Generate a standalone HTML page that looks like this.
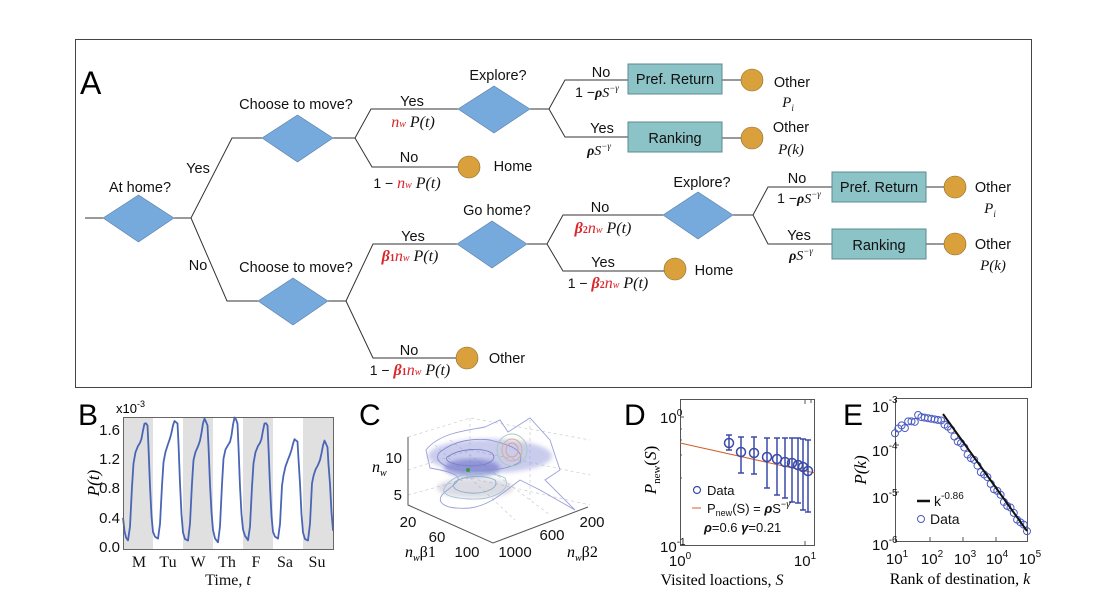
<!DOCTYPE html>
<html><head><meta charset="utf-8"><style>
html,body{margin:0;padding:0;background:#fff;}
svg{display:block;}
.s{font-family:"Liberation Sans",sans-serif;}
.m{font-family:"Liberation Serif",serif;font-style:italic;}
.r{fill:#d9262b;}
</style></head><body>
<svg id="sv" width="1102" height="614" viewBox="0 0 1102 614" xmlns="http://www.w3.org/2000/svg">
<rect width="1102" height="614" fill="#fff"/>
<!-- Panel A -->
<rect x="75.5" y="39.5" width="956" height="348" fill="none" stroke="#444" stroke-width="1"/>
<text x="80" y="94" class="s" font-size="32">A</text>
<g fill="none" stroke="#333" stroke-width="1">
<path d="M85 218H103M174 218H191L232 138H262M191 218L227 301H258"/>
<path d="M333 138H355L371 109H458M355 138L372 167H458"/>
<path d="M328 301H346L373 244H457M346 301L373 358H456"/>
<path d="M530 109H549L565 80H628M549 109L565 137H628M722 80H741M722 138H741"/>
<path d="M527 244H547L563 215H663M547 244L563 271H664"/>
<path d="M733 215H753L768 187H832M753 215L768 244H832M926 187H944M926 244H944"/>
</g>
<g fill="#76aadc" stroke="#5a7fa8" stroke-width="0.6">
<polygon points="103,218 138.5,195 174,218 138.5,242"/>
<polygon points="262,138 297.5,115 333,138 297.5,162"/>
<polygon points="258,301 293,278 328,301 293,325"/>
<polygon points="458,109 494,86 530,109 494,133"/>
<polygon points="457,244 492,221 527,244 492,268"/>
<polygon points="663,215 698,192 733,215 698,239"/>
</g>
<g fill="#d9a03c" stroke="#8a6a2a" stroke-width="0.6">
<circle cx="469" cy="167" r="11"/><circle cx="467" cy="358" r="11"/>
<circle cx="675" cy="269" r="11"/>
<circle cx="752" cy="80" r="11"/><circle cx="752" cy="138" r="11"/>
<circle cx="955" cy="187" r="11"/><circle cx="955" cy="244" r="11"/>
</g>
<g fill="#8cc3c7" stroke="#5d8b90" stroke-width="1">
<rect x="628" y="64" width="94" height="30"/><rect x="628" y="122" width="94" height="30"/>
<rect x="832" y="172" width="94" height="30"/><rect x="832" y="229" width="94" height="30"/>
</g>
<g class="s" font-size="14.5" fill="#111" text-anchor="middle">
<text x="675" y="84">Pref. Return</text><text x="675" y="143">Ranking</text>
<text x="879" y="192">Pref. Return</text><text x="879" y="250">Ranking</text>
<text x="140" y="192">At home?</text>
<text x="296" y="109">Choose to move?</text><text x="296" y="272">Choose to move?</text>
<text x="498" y="80">Explore?</text><text x="497" y="215">Go home?</text><text x="702" y="187">Explore?</text>
<text x="198" y="173">Yes</text><text x="198" y="270">No</text>
<text x="412" y="106">Yes</text><text x="409" y="162">No</text>
<text x="413" y="241">Yes</text><text x="409" y="355">No</text>
<text x="601" y="77">No</text><text x="602" y="133">Yes</text>
<text x="600" y="212">No</text><text x="603" y="267">Yes</text>
<text x="797" y="183">No</text><text x="799" y="240">Yes</text>
<text x="792" y="87">Other</text><text x="791" y="132">Other</text>
<text x="993" y="192">Other</text><text x="993" y="249">Other</text>
<text x="513" y="171">Home</text><text x="714" y="275">Home</text><text x="507" y="363">Other</text>
</g>
<g font-size="16" text-anchor="middle" fill="#111">
<text x="413" y="127"><tspan class="m r">n</tspan><tspan class="m r" font-size="10">w</tspan><tspan class="m"> P</tspan><tspan class="m">(t)</tspan></text>
<text x="407" y="188"><tspan class="s" font-size="14">1 − </tspan><tspan class="m r">n</tspan><tspan class="m r" font-size="10">w</tspan><tspan class="m"> P(t)</tspan></text>
<text x="410" y="261"><tspan class="r" font-family="Liberation Serif" font-weight="bold" font-style="italic">β</tspan><tspan class="r" font-family="Liberation Serif" font-weight="bold" font-size="10">1</tspan><tspan class="m r">n</tspan><tspan class="m r" font-size="10">w</tspan><tspan class="m"> P(t)</tspan></text>
<text x="410" y="375"><tspan class="s" font-size="14">1 − </tspan><tspan class="r" font-family="Liberation Serif" font-weight="bold" font-style="italic">β</tspan><tspan class="r" font-family="Liberation Serif" font-weight="bold" font-size="10">1</tspan><tspan class="m r">n</tspan><tspan class="m r" font-size="10">w</tspan><tspan class="m"> P(t)</tspan></text>
<text x="603" y="233"><tspan class="r" font-family="Liberation Serif" font-weight="bold" font-style="italic">β</tspan><tspan class="r" font-family="Liberation Serif" font-weight="bold" font-size="10">2</tspan><tspan class="m r">n</tspan><tspan class="m r" font-size="10">w</tspan><tspan class="m"> P(t)</tspan></text>
<text x="608" y="288"><tspan class="s" font-size="14">1 − </tspan><tspan class="r" font-family="Liberation Serif" font-weight="bold" font-style="italic">β</tspan><tspan class="r" font-family="Liberation Serif" font-weight="bold" font-size="10">2</tspan><tspan class="m r">n</tspan><tspan class="m r" font-size="10">w</tspan><tspan class="m"> P(t)</tspan></text>
<g font-size="14">
<text x="597" y="97"><tspan class="s">1 −</tspan><tspan font-family="Liberation Serif" font-weight="bold" font-style="italic">ρ</tspan><tspan class="m">S</tspan><tspan class="m" font-size="9" dy="-6">−γ</tspan></text>
<text x="599" y="155"><tspan font-family="Liberation Serif" font-weight="bold" font-style="italic">ρ</tspan><tspan class="m">S</tspan><tspan class="m" font-size="9" dy="-6">−γ</tspan></text>
<text x="799" y="203"><tspan class="s">1 −</tspan><tspan font-family="Liberation Serif" font-weight="bold" font-style="italic">ρ</tspan><tspan class="m">S</tspan><tspan class="m" font-size="9" dy="-6">−γ</tspan></text>
<text x="801" y="260"><tspan font-family="Liberation Serif" font-weight="bold" font-style="italic">ρ</tspan><tspan class="m">S</tspan><tspan class="m" font-size="9" dy="-6">−γ</tspan></text>
</g>
<g font-size="15" class="m">
<text x="788" y="107">P<tspan font-size="9" dy="4">i</tspan></text>
<text x="791" y="154">P(k)</text>
<text x="990" y="213">P<tspan font-size="9" dy="4">i</tspan></text>
<text x="993" y="270">P(k)</text>
</g>
</g>

<!-- Panel B -->
<text x="78" y="425" class="s" font-size="30">B</text>
<g fill="#e0e0e0">
<rect x="123" y="417" width="30" height="133"/><rect x="183" y="417" width="30" height="133"/>
<rect x="243" y="417" width="30" height="133"/><rect x="303" y="417" width="30" height="133"/>
</g>
<path id="bcurve" fill="none" stroke="#4a65b5" stroke-width="1.8" stroke-linejoin="round" d=""/>
<rect x="123.5" y="417.5" width="210" height="132" fill="none" stroke="#666" stroke-width="1"/>
<g class="s" font-size="15" text-anchor="end" fill="#111">
<text x="120" y="435">1.6</text><text x="120" y="464">1.2</text><text x="120" y="493">0.8</text><text x="120" y="523">0.4</text><text x="120" y="552">0.0</text>
</g>
<text x="116" y="413" class="s" font-size="13">x10<tspan font-size="9" dy="-6">-3</tspan></text>
<text transform="translate(99,483) rotate(-90)" class="m" font-size="17" text-anchor="middle">P(t)</text>
<g font-family="Liberation Serif" font-size="16" text-anchor="middle" fill="#111">
<text x="139" y="567">M</text><text x="168" y="567">Tu</text><text x="198" y="567">W</text><text x="227" y="567">Th</text><text x="256" y="567">F</text><text x="285" y="567">Sa</text><text x="317" y="567">Su</text>
<text x="228" y="585">Time, <tspan font-style="italic">t</tspan></text>
</g>

<!-- Panel C -->
<text x="359" y="425" class="s" font-size="30">C</text>
<g stroke="#ccc" stroke-width="0.7" stroke-dasharray="3,3" fill="none">
<path d="M408 437L470 418L590 440M408 470L470 450L590 475M408 495L470 478L590 505M470 418V478M530 420V500M435 445L515 520M450 440L550 515"/>
</g>
<defs><filter id="bl"><feGaussianBlur stdDeviation="2"/></filter></defs>
<ellipse cx="490" cy="456" rx="62" ry="17" fill="#8a8fd8" opacity="0.45" filter="url(#bl)"/>
<ellipse cx="472" cy="468" rx="28" ry="9" fill="#6a6fc8" opacity="0.6" filter="url(#bl)"/>
<ellipse cx="475" cy="488" rx="38" ry="10" fill="#9a9ab0" opacity="0.35" filter="url(#bl)"/>
<g fill="none" stroke-width="0.9">
<path d="M426 450C440 432 470 430 485 427L500 420L508 432L530 418L550 440L560 470L545 480L575 510L540 490L520 480C500 495 490 505 470 508C440 510 435 500 445 492C460 480 470 475 430 468Z" stroke="#9aa0d8"/>
<path d="M440 452C455 440 475 438 490 440C510 445 525 450 520 462C505 472 480 470 460 470C445 468 432 460 440 452Z" stroke="#8a90d0"/>
<path d="M447 457C460 448 480 448 490 452C500 458 490 466 470 466C455 465 444 462 447 457Z" stroke="#7a80c8"/>
<path d="M455 482C465 475 485 475 495 480C500 488 485 494 470 493C458 492 450 488 455 482Z" stroke="#8ab0c8"/>
<path d="M445 487C455 470 490 470 505 478C512 492 490 500 470 499C450 498 440 494 445 487Z" stroke="#a0c0d8"/>
<ellipse cx="512" cy="450" rx="10" ry="11" stroke="#d4b080"/>
<ellipse cx="512" cy="450" rx="6" ry="7" stroke="#e0a080"/>
<ellipse cx="512" cy="450" rx="15" ry="16" stroke="#a8c8b8"/>
</g>
<circle cx="468" cy="470" r="2" fill="#3a9a3a"/>
<g stroke="#555" stroke-width="1" fill="none"><path d="M408 437V505L493 543L588 507"/></g>
<g class="s" font-size="15" fill="#111">
<text x="402" y="463" text-anchor="end">10</text><text x="402" y="500" text-anchor="end">5</text>
<text x="408" y="527" text-anchor="middle">20</text><text x="437" y="542" text-anchor="middle">60</text><text x="467" y="557" text-anchor="middle">100</text>
<text x="515" y="557" text-anchor="middle">1000</text><text x="552" y="540" text-anchor="middle">600</text><text x="592" y="527" text-anchor="middle">200</text>
</g>
<text x="372" y="472" class="m" font-size="16">n<tspan font-size="10" dy="4">w</tspan></text>
<text x="405" y="557" font-family="Liberation Serif" font-size="16"><tspan font-style="italic">n</tspan><tspan font-style="italic" font-size="10" dy="4">w</tspan><tspan dy="-4">β1</tspan></text>
<text x="567" y="557" font-family="Liberation Serif" font-size="16"><tspan font-style="italic">n</tspan><tspan font-style="italic" font-size="10" dy="4">w</tspan><tspan dy="-4">β2</tspan></text>

<!-- Panel D -->
<text x="624" y="425" class="s" font-size="30">D</text>
<rect x="680.5" y="399.5" width="134" height="146" fill="none" stroke="#555" stroke-width="1"/>
<g stroke="#555" stroke-width="1"><path d="M680 417h4M680 545h4M805 545v-4M805 400v4M811 400v3M680 478h2M680 455h2M680 440h2M680 429h2"/></g>
<line x1="680" y1="443" x2="815" y2="473" stroke="#d0602a" stroke-width="1"/>
<g stroke="#3a4aa8" stroke-width="1.5" fill="none">
<path d="M729 435V450M726 435h6M726 450h6"/>
<path d="M741 437V473M738 437h6M738 473h6"/>
<path d="M754 437V474M751 437h6M751 474h6"/>
<path d="M767 438V488M764 438h6M764 488h6"/>
<path d="M777 438V495M774 438h6M774 495h6"/>
<path d="M785 438V498M782 438h6M782 498h6"/>
<path d="M792 438V502M789 438h6M789 502h6"/>
<path d="M798 438V503M795 438h6M795 503h6"/>
<path d="M803 439V510M800 439h6M800 510h6"/>
<path d="M808 440V512M805 440h6M805 512h6"/>
<circle cx="729" cy="443" r="4.5"/><circle cx="741" cy="452" r="4.5"/><circle cx="754" cy="453" r="4.5"/>
<circle cx="767" cy="457" r="4.5"/><circle cx="777" cy="459" r="4.5"/><circle cx="785" cy="462" r="4.5"/>
<circle cx="792" cy="463" r="4.5"/><circle cx="798" cy="465" r="4.5"/><circle cx="803" cy="467" r="4.5"/><circle cx="808" cy="471" r="4.5"/>
<circle cx="697" cy="490" r="3.5" stroke-width="1.2"/>
</g>
<line x1="692" y1="508" x2="701" y2="508" stroke="#d0602a" stroke-width="1"/>
<g class="s" font-size="13" fill="#111">
<text x="707" y="495">Data</text>
<text x="707" y="513">P<tspan font-size="9" dy="3">new</tspan><tspan dy="-3">(S) = </tspan><tspan font-weight="bold" font-style="italic">ρ</tspan>S<tspan font-size="9" dy="-6">−</tspan><tspan font-size="9" font-style="italic">γ</tspan></text>
<text x="704" y="532"><tspan font-weight="bold" font-style="italic">ρ</tspan>=0.6   <tspan font-weight="bold" font-style="italic">γ</tspan>=0.21</text>
</g>
<g class="s" font-size="15" fill="#111">
<text x="660" y="423">10<tspan font-size="10" dy="-7">0</tspan></text>
<text x="660" y="552">10<tspan font-size="10" dy="-7">-1</tspan></text>
<text x="680" y="566" text-anchor="middle">10<tspan font-size="10" dy="-7">0</tspan></text>
<text x="805" y="566" text-anchor="middle">10<tspan font-size="10" dy="-7">1</tspan></text>
</g>
<text transform="translate(656,470) rotate(-90)" font-size="17" text-anchor="middle" font-family="Liberation Serif"><tspan font-style="italic">P</tspan><tspan font-size="11" dy="4">new</tspan><tspan dy="-4">(</tspan><tspan font-style="italic">S</tspan>)</text>
<text x="722" y="585" font-family="Liberation Serif" font-size="16" text-anchor="middle">Visited loactions, <tspan font-style="italic">S</tspan></text>

<!-- Panel E -->
<text x="843" y="425" class="s" font-size="30">E</text>
<rect x="895.5" y="398.5" width="132" height="143" fill="none" stroke="#555" stroke-width="1"/>
<g stroke="#555" stroke-width="1"><path d="M895 445h4M895 492h4M930 541v-4M963 541v-4M996 541v-4"/></g>
<g id="epts" fill="none" stroke="#4a5ac0" stroke-width="1"></g>
<line x1="943" y1="414" x2="1027" y2="531" stroke="#111" stroke-width="2"/>
<line x1="917" y1="501" x2="930" y2="501" stroke="#111" stroke-width="2.5"/>
<circle cx="921" cy="519" r="3.5" fill="none" stroke="#4a5ac0"/>
<g class="s" font-size="14" fill="#111">
<text x="934" y="506">k<tspan font-size="10" dy="-7">-0.86</tspan></text>
<text x="930" y="524">Data</text>
</g>
<g class="s" font-size="15" fill="#111">
<text x="872" y="412">10<tspan font-size="10" dy="-9">-3</tspan></text>
<text x="872" y="456">10<tspan font-size="10" dy="-7">-4</tspan></text>
<text x="872" y="503">10<tspan font-size="10" dy="-7">-5</tspan></text>
<text x="872" y="550">10<tspan font-size="10" dy="-7">-6</tspan></text>
<g text-anchor="middle">
<text x="897" y="564">10<tspan font-size="10" dy="-7">1</tspan></text>
<text x="932" y="564">10<tspan font-size="10" dy="-7">2</tspan></text>
<text x="965" y="564">10<tspan font-size="10" dy="-7">3</tspan></text>
<text x="997" y="564">10<tspan font-size="10" dy="-7">4</tspan></text>
<text x="1030" y="564">10<tspan font-size="10" dy="-7">5</tspan></text>
</g>
</g>
<text transform="translate(866,470) rotate(-90)" class="m" font-size="17" text-anchor="middle">P(k)</text>
<text x="960" y="584" font-family="Liberation Serif" font-size="16" text-anchor="middle">Rank of destination, <tspan font-style="italic">k</tspan></text>
</svg>
<script>
(function(){
var peaks=[1.7,1.75,1.75,1.75,1.7,1.5,1.45];
var pts=[[123,0.4],[124.5,0.22],[126,0.13]];
function v(x){return 547-x*73;}
for(var d=0;d<7;d++){
 var x0=123+30*d,p=peaks[d],s=(p-0.1)/1.6;
 var seq=[[5,0.09],[7,0.3],[9,0.85],[10.5,1.15*s],[12.5,1.28*s],[15,1.36*s],[17,1.42*s],[18.5,1.5*s],[20,1.62*s],[21.5,p],[23,p-0.02],[24.5,p-0.06],[25.5,1.35*s],[27,0.85],[28.5,0.45],[30,0.22],[32,0.13]];
 for(var i=0;i<seq.length;i++){var xx=x0+seq[i][0]; if(xx<=333) pts.push([xx,seq[i][1]]);}
}
pts.push([333,0.4]);
var dd="";
for(var i=0;i<pts.length;i++){
 var n=(i>3&&i<pts.length-1)?(Math.sin(i*7.3)*0.025):0;
 dd+=(i?"L":"M")+pts[i][0].toFixed(1)+" "+v(pts[i][1]+n).toFixed(1);
}
document.getElementById("bcurve").setAttribute("d",dd);
var g=document.getElementById("epts"),ns="http://www.w3.org/2000/svg";
function X(l){return 895+(l-1)*33;}
function Y(lp){return 398+47*(-3-lp);}
for(var l=1.0;l<=5.001;l+=0.1){
 var lp;
 if(l<1.75) lp=-3.7+(l-1)*0.4+Math.sin(l*23)*0.06;
 else if(l<2.45) lp=-3.4-(l-1.75)*0.12;
 else lp=-3.48-(l-2.45)*0.92+Math.sin(l*17)*0.04;
 var c=document.createElementNS(ns,"circle");
 c.setAttribute("cx",X(l));c.setAttribute("cy",Y(lp));c.setAttribute("r",3.5);
 g.appendChild(c);
}
})();
</script>
</body></html>
